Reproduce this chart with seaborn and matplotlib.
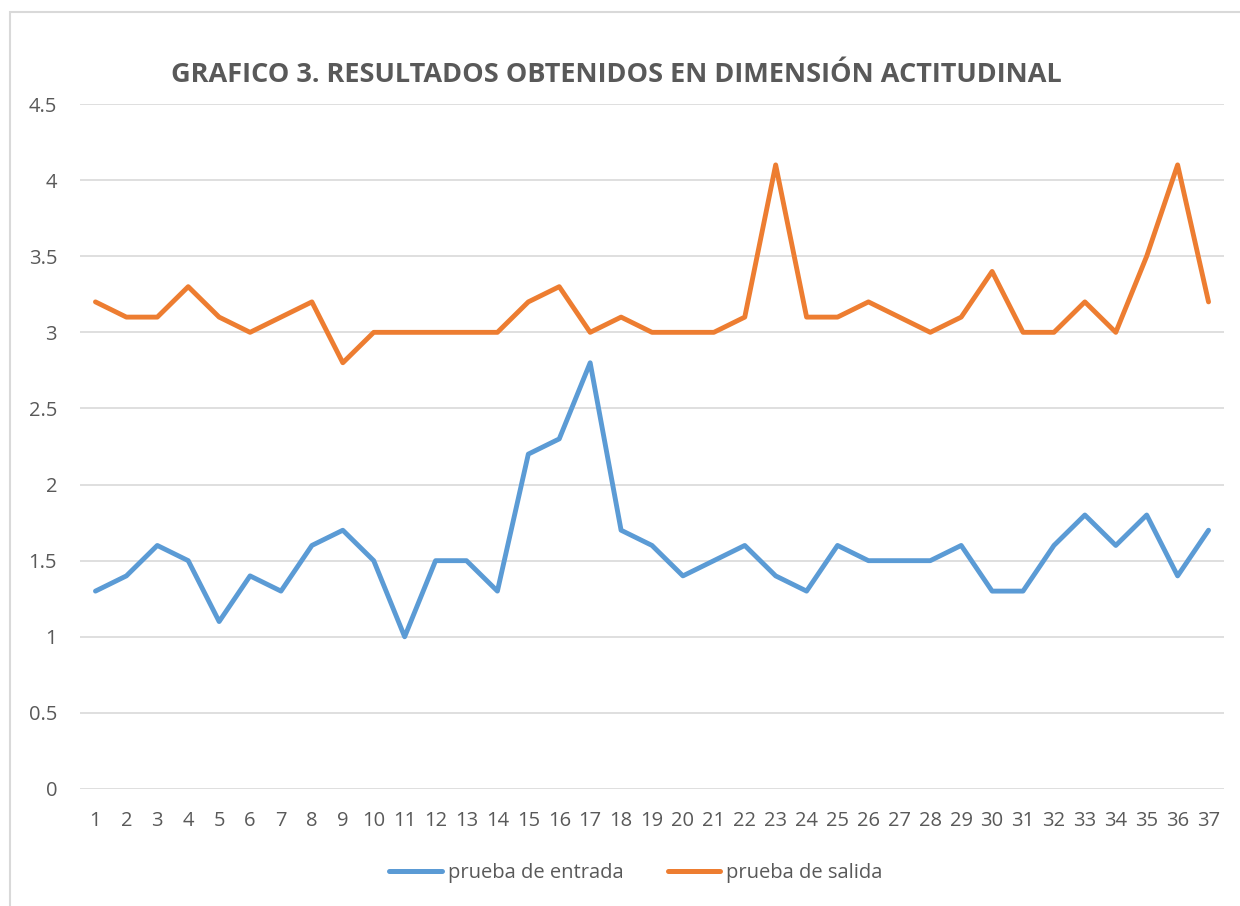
import matplotlib
matplotlib.use("Agg")
import matplotlib.pyplot as plt
import seaborn as sns
import pandas as pd
from matplotlib.patches import Rectangle

categories = list(range(1, 38))
entrada = [1.3, 1.4, 1.6, 1.5, 1.1, 1.4, 1.3, 1.6, 1.7, 1.5, 1.0, 1.5, 1.5, 1.3, 2.2, 2.3, 2.8,
           1.7, 1.6, 1.4, 1.5, 1.6, 1.4, 1.3, 1.6, 1.5, 1.5, 1.5, 1.6, 1.3, 1.3, 1.6, 1.8, 1.6,
           1.8, 1.4, 1.7]
salida = [3.2, 3.1, 3.1, 3.3, 3.1, 3.0, 3.1, 3.2, 2.8, 3.0, 3.0, 3.0, 3.0, 3.0, 3.2, 3.3, 3.0,
          3.1, 3.0, 3.0, 3.0, 3.1, 4.1, 3.1, 3.1, 3.2, 3.1, 3.0, 3.1, 3.4, 3.0, 3.0, 3.2, 3.0,
          3.5, 4.1, 3.2]
series_names = ["prueba de entrada", "prueba de salida"]
yticks = [0, 0.5, 1, 1.5, 2, 2.5, 3, 3.5, 4, 4.5]
ytick_labels = ["0", "0.5", "1", "1.5", "2", "2.5", "3", "3.5", "4", "4.5"]
title = "GRAFICO 3. RESULTADOS OBTENIDOS EN DIMENSIÓN ACTITUDINAL"

df = pd.DataFrame({
    "x": categories * 2,
    "valor": entrada + salida,
    "serie": [series_names[0]] * len(entrada) + [series_names[1]] * len(salida),
})

sns.set_theme(style="white")
plt.rcParams["font.family"] = ["Open Sans", "DejaVu Sans"]

fig = plt.figure(figsize=(12.4, 9.06), dpi=100)
ax = fig.add_axes([80 / 1240, 1 - 789 / 906, (1224 - 80) / 1240, (789 - 104) / 906])

sns.lineplot(data=df, x="x", y="valor", hue="serie", ax=ax,
             palette={series_names[0]: "#5B9BD5", series_names[1]: "#ED7D31"},
             linewidth=3.5, legend=True)
for ln in ax.get_lines():
    ln.set_solid_capstyle("round")
    ln.set_solid_joinstyle("round")

ax.set_xlim(0.5, 37.5)
ax.set_ylim(0, 4.5)
ax.set_yticks(yticks)
ax.set_yticklabels(ytick_labels)
ax.set_xticks(categories)
ax.set_xticklabels([str(c) for c in categories])
ax.grid(axis="y", color="#D9D9D9", linewidth=1.2)
ax.set_axisbelow(True)
for s in ax.spines.values():
    s.set_visible(False)
ax.set_xlabel("")
ax.set_ylabel("")
ax.tick_params(axis="both", length=0, labelsize=14.5, labelcolor="#595959")
ax.tick_params(axis="y", pad=16.5)
ax.tick_params(axis="x", pad=16)

fig.text(616 / 1240, 1 - 75 / 906, title, ha="center", va="center",
         fontsize=19.5, fontweight="bold", color="#595959")

handles, labels = ax.get_legend_handles_labels()
for h in handles:
    h.set_linewidth(3.6)
    h.set_solid_capstyle("round")
ax.legend(handles, labels, loc="center", bbox_to_anchor=(636 / 1240, 1 - 873 / 906),
          bbox_transform=fig.transFigure, ncol=2, frameon=False, fontsize=14.5,
          handlelength=2.6, handletextpad=0.3, columnspacing=2.2,
          labelcolor="#595959")

fig.patches.append(Rectangle((10 / 1240, -0.05), 1.1, 1.05 - 12 / 906,
                             transform=fig.transFigure, fill=False,
                             edgecolor="#D9D9D9", linewidth=1.5, figure=fig))

fig.savefig("out.png", dpi=100, facecolor="white")
